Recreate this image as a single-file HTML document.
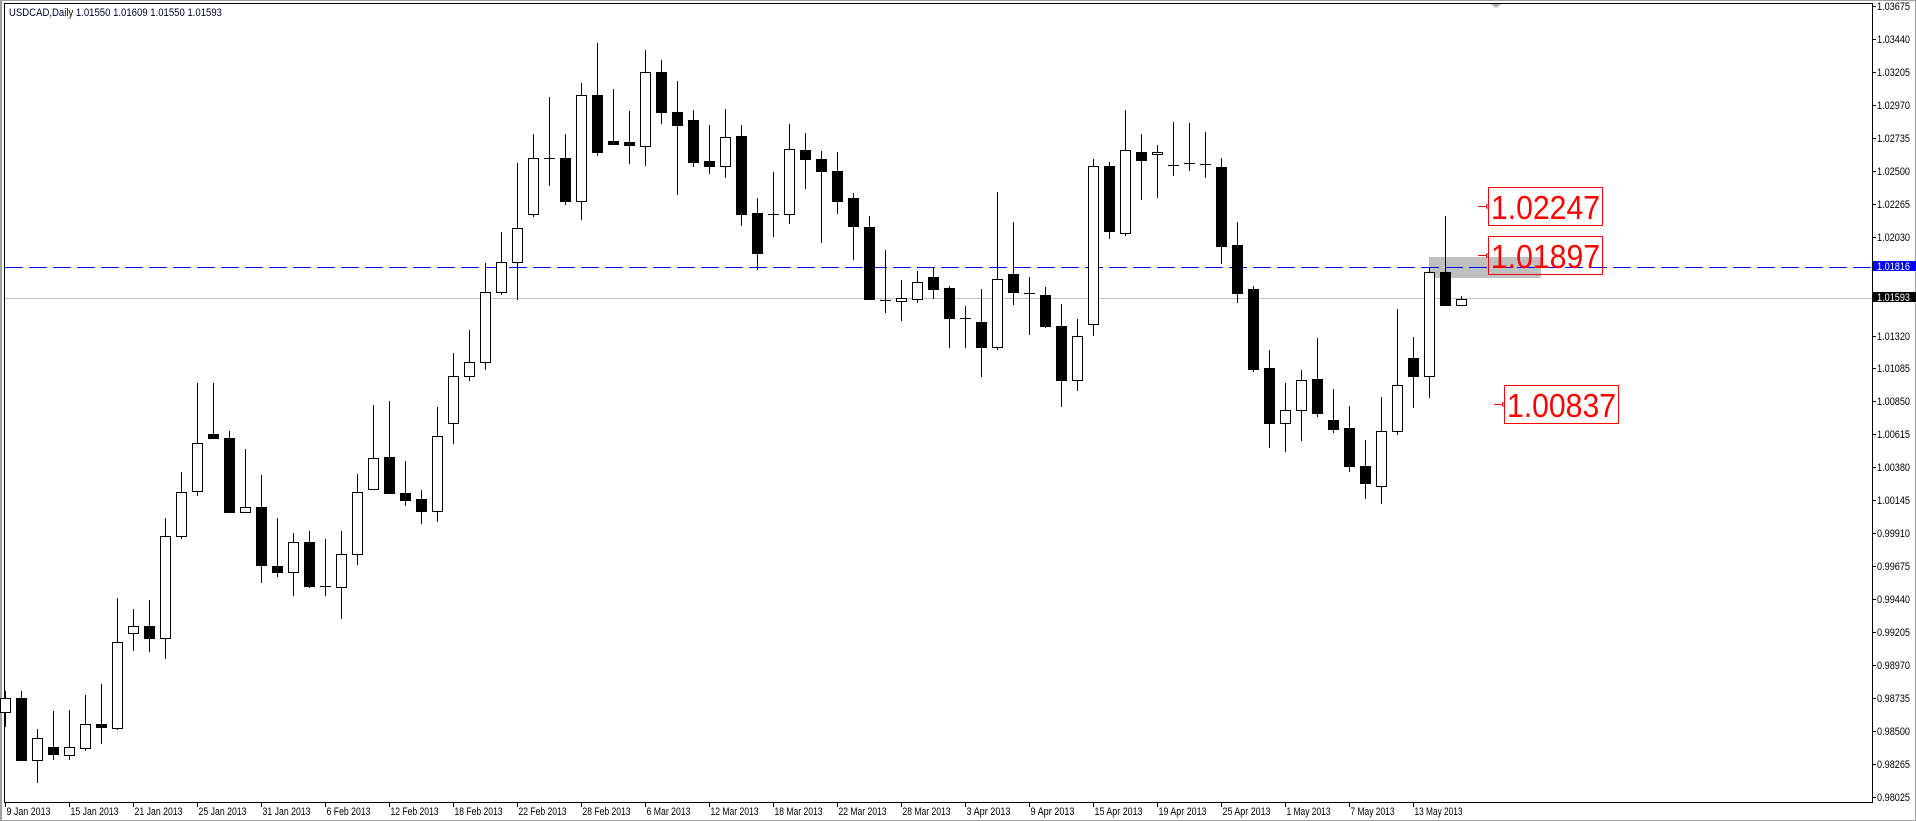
<!DOCTYPE html>
<html><head><meta charset="utf-8"><style>
html,body{margin:0;padding:0;background:#fff;width:1916px;height:821px;overflow:hidden}
svg{display:block}
text{font-family:"Liberation Sans",sans-serif}
</style></head><body>
<svg id="s" width="1916" height="821" xmlns="http://www.w3.org/2000/svg">
<rect x="0" y="0" width="1916" height="821" fill="#fff"/>
<rect x="0.5" y="0.5" width="1915" height="820" fill="none" stroke="#a0a0a0" stroke-width="1"/>
<line x1="1.5" y1="0" x2="1.5" y2="821" stroke="#a0a0a0"/>
<line x1="4.5" y1="3.5" x2="4.5" y2="802.5" stroke="#000"/>
<line x1="4" y1="3.5" x2="1872" y2="3.5" stroke="#000"/>
<line x1="4" y1="802.5" x2="1872" y2="802.5" stroke="#000"/>
<line x1="1872.5" y1="3" x2="1872.5" y2="803" stroke="#000"/>
<polygon points="1491,4 1501,4 1496,8" fill="#b0b0b0"/>
<text x="9" y="16" font-size="11" fill="#000033" textLength="213" lengthAdjust="spacingAndGlyphs">USDCAD,Daily  1.01550 1.01609 1.01550 1.01593</text>
<rect x="1429" y="257" width="112" height="21" fill="#c0c0c0"/>
<line x1="5" y1="298.5" x2="1872" y2="298.5" stroke="#c0c0c0"/>
<line x1="5" y1="267.5" x2="1872" y2="267.5" stroke="#0000ff" stroke-dasharray="18,6"/>
<g id="c"></g>
<g id="ax"></g>
<g fill="none" stroke="#ff0000" stroke-width="1">
<rect x="1488.5" y="187.5" width="114" height="38"/>
<line x1="1478" y1="206.5" x2="1486" y2="206.5"/><rect x="1486.5" y="205" width="2" height="3"/>
<rect x="1488.5" y="236.5" width="114" height="38"/>
<line x1="1478" y1="255.5" x2="1486" y2="255.5"/><rect x="1486.5" y="254" width="2" height="3"/>
<rect x="1504.5" y="385.5" width="114" height="38"/>
<line x1="1494" y1="404.5" x2="1502" y2="404.5"/><rect x="1502.5" y="403" width="2" height="3"/>
</g>
<g font-size="33" fill="#ff0000">
<text x="1491" y="219" textLength="109" lengthAdjust="spacingAndGlyphs">1.02247</text>
<text x="1491" y="268" textLength="109" lengthAdjust="spacingAndGlyphs">1.01897</text>
<text x="1507" y="417" textLength="109" lengthAdjust="spacingAndGlyphs">1.00837</text>
</g>
<rect x="1873" y="261" width="43" height="10" fill="#0000ff"/>
<text x="1877" y="270" font-size="11" fill="#fff" textLength="33" lengthAdjust="spacingAndGlyphs">1.01816</text>
<rect x="1873" y="292" width="43" height="10" fill="#000"/>
<text x="1877" y="301" font-size="11" fill="#fff" textLength="33" lengthAdjust="spacingAndGlyphs">1.01593</text>
</svg>
<script>
var D=[
['w',698,712,691,727],['b',698,760,691,760],['w',738,760,729,783],['b',747,754,711,760],['w',747,755,710,760],
['w',724,748,695,751],['b',724,727,684,744],['w',642,728,598,730],['w',626,633,609,651],['b',626,638,600,652],
['w',536,638,518,659],['w',492,536,472,539],['w',443,491,383,496],['b',434,438,383,439],['b',438,512,431,513],
['w',507,512,449,513],['b',507,565,475,583],['b',566,572,518,577],['w',542,572,533,596],['b',542,586,531,588],
['d',586,586,539,596],['w',554,587,531,619],['w',492,554,474,565],['w',458,489,405,489],['b',457,493,401,493],
['b',493,500,461,506],['b',499,511,490,524],['w',436,511,407,522],['w',376,423,353,444],['w',362,376,330,381],
['w',292,362,263,370],['w',262,292,232,295],['w',228,262,163,300],['w',158,214,134,217],['d',158,158,97,186],
['b',158,201,134,205],['w',95,201,83,220],['b',95,152,43,156],['b',141,144,89,145],['b',142,145,111,164],
['w',72,146,50,166],['b',72,112,60,124],['b',112,125,81,195],['b',120,162,110,167],['b',161,166,125,174],
['w',137,166,109,178],['b',136,214,125,226],['b',213,253,198,270],['d',214,214,172,237],['w',149,214,124,224],
['b',150,159,133,189],['b',159,171,151,243],['b',171,201,152,214],['b',198,226,193,260],['b',227,299,216,300],
['d',300,300,250,313],['w',298,301,280,321],['w',282,299,271,303],['b',277,289,267,299],['b',288,318,286,348],
['d',318,318,306,348],['b',322,347,289,377],['w',279,347,192,350],['b',274,292,222,305],['d',293,293,277,335],
['b',295,326,287,328],['b',326,380,304,407],['w',336,380,319,391],['w',166,324,159,336],['b',166,231,162,239],
['w',150,233,110,236],['b',152,160,134,200],['w',152,154,145,198],['d',165,165,122,176],['d',163,163,123,171],
['d',164,164,132,178],['b',167,246,158,264],['b',245,293,222,303],['b',289,369,286,372],['b',368,423,350,448],
['w',410,423,383,452],['w',380,410,370,441],['b',379,413,338,417],['b',420,429,389,433],['b',428,466,406,472],
['b',466,483,440,499],['w',431,486,397,504],['w',385,431,309,435],['b',358,376,337,408],['w',272,376,267,398],
['b',272,305,216,305],['w',299,305,296,305]];
var h='';
D.forEach(function(c,i){
 var cx=5+16*i+0.5;
 h+='<line x1="'+cx+'" y1="'+c[3]+'" x2="'+cx+'" y2="'+c[4]+'" stroke="#000" stroke-width="1"/>';
 if(c[0]=='d'){h+='<line x1="'+(cx-5.5)+'" y1="'+(c[1]+0.5)+'" x2="'+(cx+5.5)+'" y2="'+(c[1]+0.5)+'" stroke="#000"/>';}
 else{var hh=Math.max(c[2]-c[1],2);
 h+='<rect x="'+(cx-5)+'" y="'+(c[1]+0.5)+'" width="10" height="'+hh+'" fill="'+(c[0]=='b'?'#000':'#fff')+'" stroke="#000" stroke-width="1"/>';}
});
document.getElementById('c').innerHTML=h;
var L=['1.03675','1.03440','1.03205','1.02970','1.02735','1.02500','1.02265','1.02030','','','1.01320','1.01085','1.00850','1.00615','1.00380','1.00145','0.99910','0.99675','0.99440','0.99205','0.98970','0.98735','0.98500','0.98265','0.98025'];
var a='';
L.forEach(function(t,k){var y=Math.round(6+32.95*k);
 if(t){a+='<line x1="1872" y1="'+(y+0.5)+'" x2="1876" y2="'+(y+0.5)+'" stroke="#000"/><text x="1877" y="'+(y+4)+'" font-size="11" fill="#000" textLength="33" lengthAdjust="spacingAndGlyphs">'+t+'</text>';}});
var DT=[[0,'9 Jan 2013'],[4,'15 Jan 2013'],[8,'21 Jan 2013'],[12,'25 Jan 2013'],[16,'31 Jan 2013'],[20,'6 Feb 2013'],[24,'12 Feb 2013'],[28,'18 Feb 2013'],[32,'22 Feb 2013'],[36,'28 Feb 2013'],[40,'6 Mar 2013'],[44,'12 Mar 2013'],[48,'18 Mar 2013'],[52,'22 Mar 2013'],[56,'28 Mar 2013'],[60,'3 Apr 2013'],[64,'9 Apr 2013'],[68,'15 Apr 2013'],[72,'19 Apr 2013'],[76,'25 Apr 2013'],[80,'1 May 2013'],[84,'7 May 2013'],[88,'13 May 2013']];
DT.forEach(function(d){var x=5+16*d[0]+0.5;
 a+='<line x1="'+x+'" y1="802" x2="'+x+'" y2="807" stroke="#000"/><text x="'+(x+1)+'" y="815" font-size="11" fill="#000" textLength="'+Math.round(d[1].length*4.4)+'" lengthAdjust="spacingAndGlyphs">'+d[1]+'</text>';});
document.getElementById('ax').innerHTML=a;
</script>
</body></html>
